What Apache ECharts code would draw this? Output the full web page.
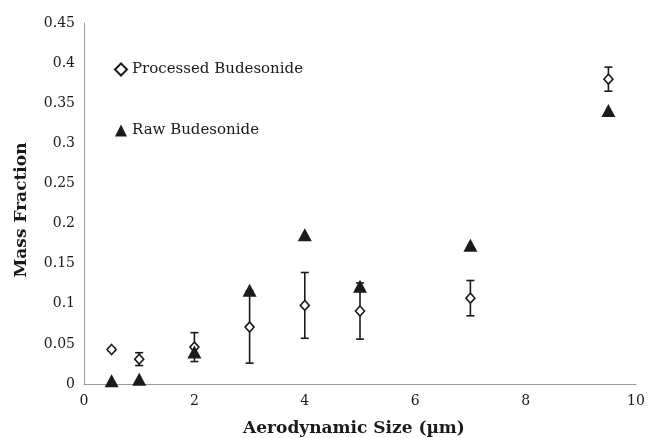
<!DOCTYPE html>
<html>
<head>
<meta charset="utf-8">
<script src="https://cdn.jsdelivr.net/npm/echarts@6/dist/echarts.min.js"></script>
<style>
  html, body { margin: 0; padding: 0; background: #fff; }
  #chart { width: 649px; height: 438px; }
</style>
</head>
<body>
<div id="chart"></div>
<script>
// Aerodynamic size bins (µm)
const sizes = [0.5, 1, 2, 3, 4, 5, 7, 9.5];
// Mass fraction per size bin
const processed = [0.043, 0.031, 0.046, 0.071, 0.098, 0.091, 0.107, 0.380];
const processedErr = [0.002, 0.008, 0.018, 0.045, 0.041, 0.035, 0.022, 0.015];
const raw = [0.004, 0.006, 0.040, 0.117, 0.186, 0.122, 0.173, 0.341];
const xTicks = [0, 2, 4, 6, 8, 10];
const yTicks = [0, 0.05, 0.1, 0.15, 0.2, 0.25, 0.3, 0.35, 0.4, 0.45];

const font = 'DejaVu Serif';
const ink = '#1a1a1a';
const chart = echarts.init(document.getElementById('chart'));

const errData = sizes.map((x, i) => [x, processed[i] - processedErr[i], processed[i] + processedErr[i]]);

chart.setOption({
  animation: false,
  grid: { left: 84, right: 13, top: 23, bottom: 54, containLabel: false, outerBoundsMode: 'none' },
  legend: {
    data: ['Processed Budesonide', 'Raw Budesonide'],
    orient: 'vertical',
    left: 109,
    top: 57,
    itemGap: 46,
    itemWidth: 12,
    itemHeight: 12,
    textStyle: { fontFamily: font, fontSize: 15, color: ink }
  },
  xAxis: {
    type: 'value',
    min: 0, max: 10, interval: 2,
    name: 'Aerodynamic Size (µm)',
    nameLocation: 'middle',
    nameGap: 36,
    nameTextStyle: { fontFamily: font, fontSize: 17, fontWeight: 'bold', color: ink, padding: [0, 12, 0, 0] },
    axisLine: { lineStyle: { color: '#999', width: 1 } },
    axisTick: { show: false },
    splitLine: { show: false },
    axisLabel: {
      fontFamily: font, fontSize: 14, color: ink, margin: 10,
      formatter: v => xTicks.includes(v) ? String(v) : ''
    }
  },
  yAxis: {
    type: 'value',
    min: 0, max: 0.45, interval: 0.05,
    name: 'Mass Fraction',
    nameLocation: 'middle',
    nameGap: 54,
    nameTextStyle: { fontFamily: font, fontSize: 17, fontWeight: 'bold', color: ink, padding: [0, 13, 0, 0] },
    axisLine: { show: true, lineStyle: { color: '#999', width: 1 } },
    axisTick: { show: false },
    splitLine: { show: false },
    axisLabel: {
      fontFamily: font, fontSize: 14, color: ink, margin: 9,
      formatter: v => {
        const t = yTicks.find(k => Math.abs(k - v) < 1e-9);
        return t === undefined ? '' : String(+t.toFixed(2));
      }
    }
  },
  series: [
    {
      name: 'error',
      type: 'custom',
      z: 1,
      data: errData,
      renderItem: (params, api) => {
        const x = api.value(0);
        const lo = api.coord([x, api.value(1)]);
        const hi = api.coord([x, api.value(2)]);
        const cap = 4;
        const style = { stroke: ink, lineWidth: 1.6 };
        return {
          type: 'group',
          children: [
            { type: 'line', shape: { x1: lo[0], y1: lo[1], x2: hi[0], y2: hi[1] }, style },
            { type: 'line', shape: { x1: lo[0] - cap, y1: lo[1], x2: lo[0] + cap, y2: lo[1] }, style },
            { type: 'line', shape: { x1: hi[0] - cap, y1: hi[1], x2: hi[0] + cap, y2: hi[1] }, style }
          ]
        };
      }
    },
    {
      name: 'Processed Budesonide',
      type: 'scatter',
      z: 2,
      symbol: 'diamond',
      symbolSize: [9, 10],
      itemStyle: { color: '#fff', borderColor: ink, borderWidth: 1.6, opacity: 1 },
      data: sizes.map((x, i) => [x, processed[i]])
    },
    {
      name: 'Raw Budesonide',
      type: 'scatter',
      z: 3,
      symbol: 'triangle',
      symbolSize: [14, 13],
      itemStyle: { color: ink, opacity: 1 },
      data: sizes.map((x, i) => [x, raw[i]])
    }
  ]
});
</script>
</body>
</html>
